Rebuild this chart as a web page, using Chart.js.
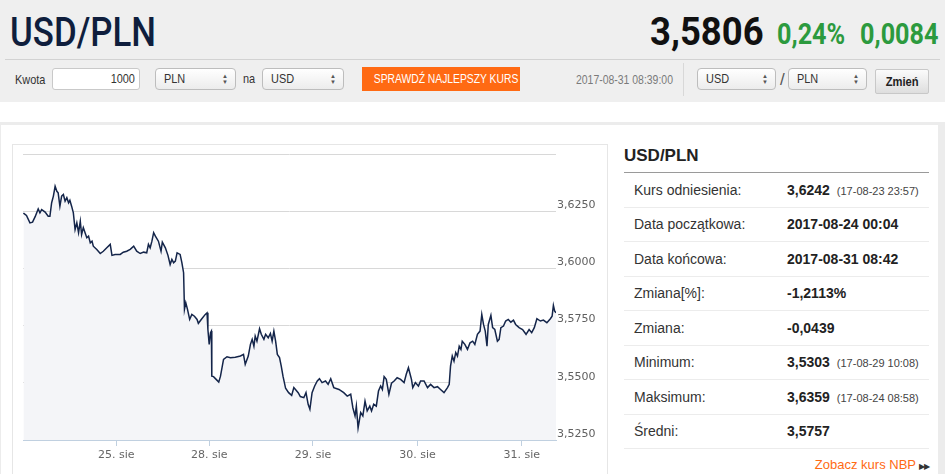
<!DOCTYPE html>
<html lang="pl">
<head>
<meta charset="utf-8">
<title>USD/PLN</title>
<script src="https://cdn.jsdelivr.net/npm/chart.js@4.4.1/dist/chart.umd.min.js"></script>
<style>
  html, body { margin: 0; padding: 0; }
  body { width: 945px; height: 474px; overflow: hidden; position: relative; background: #fff;
         font-family: "Liberation Sans", Arial, sans-serif; color: #333; }
  .abs { position: absolute; white-space: nowrap; }
  .nt { display: inline-block; transform: scaleX(0.84); transform-origin: left center; white-space: nowrap; }
  .nt.r { transform-origin: right center; }
  #top { left: 0; top: 0; width: 945px; height: 102px; background: #efefef; }
  #title { left: 10px; top: 11px; font-family: Roboto, sans-serif; font-size: 41px; line-height: 42px; color: #0f1e3d; font-weight: 500; }
  #title .nt { transform: scaleX(0.85); }
  #price { left: 650px; top: 11px; font-family: Roboto, sans-serif; font-size: 38px; line-height: 42px; font-weight: bold; color: #111; }
  #price .nt { transform: scaleX(0.96); }
  .green { top: 16px; font-family: Roboto, sans-serif; font-size: 30px; line-height: 36px; font-weight: bold; color: #2c9a3e; }
  .green .nt { transform: scaleX(0.84); }
  #sep { left: 5px; top: 59px; width: 935px; height: 1px; background: #d2d2d2; }
  .lbl { font-size: 13px; line-height: 22px; color: #333; }
  .inp { height: 20px; border: 1px solid #c9c9c9; border-radius: 3px; background: #fff; font-size: 13px; line-height: 20px; text-align: right; padding-right: 4px; box-sizing: content-box; }
  .sel { border: 1px solid #bdbdbd; border-radius: 4px; background: linear-gradient(#ffffff, #ececec);
         font-size: 13px; line-height: 20px; padding-left: 8px; box-sizing: border-box; height: 22px; }
  .sel .arr { position: absolute; right: 7px; top: 4px; font-size: 6px; line-height: 6px; color: #555; }
  #go { left: 362px; top: 67px; width: 158px; height: 24px; background: #ff6a13; color: #fff; font-size: 12px; line-height: 24px; text-align: center; }
  #go .nt { transform-origin: center center; transform: scaleX(0.86); }
  #stamp { left: 576px; top: 69px; font-size: 12px; line-height: 22px; color: #7a7a7a; }
  #stamp .nt { transform: scaleX(0.87); }
  #vsep { left: 683px; top: 63px; width: 1px; height: 33px; background: #d8d8d8; }
  #btn { left: 875px; top: 69px; width: 54px; height: 25px; box-sizing: border-box; border: 1px solid #c8c8c8; border-radius: 2px;
         background: linear-gradient(#fbfbfb, #dedede); font-size: 13px; line-height: 23px; text-align: center; font-weight: bold; color: #222; }
  #btn .nt { transform-origin: center center; transform: scaleX(0.86); }
  #frameTop { left: 0; top: 122px; width: 945px; height: 3px; background: #ececec; }
  #frameRight { left: 938px; top: 122px; width: 7px; height: 352px; background: #ececec; }
  #frameLeft { left: 0; top: 122px; width: 1px; height: 352px; background: #ececec; }
  #chartBox { left: 12px; top: 144px; width: 596px; height: 340px; box-sizing: border-box; border: 1px solid #e6e6e6; }
  #chartWrap { left: 13px; top: 145px; width: 595px; height: 329px; }
  #side { left: 624px; top: 140px; width: 305px; }
  #side h2 { margin: 0; font-size: 17px; line-height: 32px; height: 32px; font-weight: bold; color: #222; border-bottom: 1px solid #9a9a9a; }
  #side table { border-collapse: collapse; width: 305px; }
  #side td { height: 33.5px; border-bottom: 1px solid #ececec; font-size: 14px; padding: 0; vertical-align: middle; }
  #side td.k { padding-left: 10px; width: 153px; color: #333; }
  #side td.v { font-weight: bold; color: #222; }
  #side td.v small { font-weight: normal; font-size: 11px; color: #444; margin-left: 7px; }
  #nbp { right: 16px; top: 457px; font-size: 13px; line-height: 16px; color: #ff6a13; }
  #nbp span { color: #333; font-size: 8px; margin-left: 3px; letter-spacing: -1px; }
</style>
</head>
<body>

<div id="top" class="abs"></div>
<div id="title" class="abs"><span class="nt">USD/PLN</span></div>
<div id="price" class="abs"><span class="nt">3,5806</span></div>
<div class="abs green" style="left:777px;"><span class="nt">0,24%</span></div>
<div class="abs green" style="left:860px;"><span class="nt">0,0084</span></div>
<div id="sep" class="abs"></div>

<div class="abs lbl" style="left:15px; top:69px;"><span class="nt">Kwota</span></div>
<div class="abs inp" style="left:52px; top:68px; width:82px;"><span class="nt r">1000</span></div>
<div class="abs sel" style="left:155px; top:68px; width:81px;"><span class="nt">PLN</span><span class="arr">▲<br>▼</span></div>
<div class="abs lbl" style="left:243px; top:68px;"><span class="nt">na</span></div>
<div class="abs sel" style="left:262px; top:68px; width:82px;"><span class="nt">USD</span><span class="arr">▲<br>▼</span></div>
<div id="go" class="abs"><span class="nt">SPRAWDŹ NAJLEPSZY KURS</span></div>
<div id="stamp" class="abs"><span class="nt">2017-08-31 08:39:00</span></div>
<div id="vsep" class="abs"></div>
<div class="abs sel" style="left:697px; top:68px; width:79px;"><span class="nt">USD</span><span class="arr">▲<br>▼</span></div>
<div class="abs lbl" style="left:780px; top:69px; font-size:17px; color:#555;">/</div>
<div class="abs sel" style="left:788px; top:68px; width:79px;"><span class="nt">PLN</span><span class="arr">▲<br>▼</span></div>
<div id="btn" class="abs"><span class="nt">Zmień</span></div>

<div id="frameTop" class="abs"></div>
<div id="frameLeft" class="abs"></div>
<div id="frameRight" class="abs"></div>
<div id="chartBox" class="abs"></div>
<div id="chartWrap" class="abs"><canvas id="rate_chart"></canvas></div>

<div id="side" class="abs">
  <h2>USD/PLN</h2>
  <table>
    <tr><td class="k">Kurs odniesienia:</td><td class="v">3,6242<small>(17-08-23 23:57)</small></td></tr>
    <tr><td class="k">Data początkowa:</td><td class="v">2017-08-24 00:04</td></tr>
    <tr><td class="k">Data końcowa:</td><td class="v">2017-08-31 08:42</td></tr>
    <tr><td class="k">Zmiana[%]:</td><td class="v">-1,2113%</td></tr>
    <tr><td class="k">Zmiana:</td><td class="v">-0,0439</td></tr>
    <tr><td class="k">Minimum:</td><td class="v">3,5303<small>(17-08-29 10:08)</small></td></tr>
    <tr><td class="k">Maksimum:</td><td class="v">3,6359<small>(17-08-24 08:58)</small></td></tr>
    <tr><td class="k">Średni:</td><td class="v">3,5757</td></tr>
  </table>
</div>
<div id="nbp" class="abs">Zobacz kurs NBP<span>▶▶</span></div>

<script>
"use strict";

// trading-time position (hours on the ordinal axis, weekend skipped)
var hours = [
    0.1, 0.8, 1.6, 2.2, 2.8, 3.5, 3.9, 4.3, 5.1, 5.8,
    6.2, 6.6, 7.0, 7.4, 7.8, 8.1, 8.5, 8.9, 9.3, 9.7,
    10.1, 10.5, 10.8, 11.2, 11.6, 12.0, 12.4, 12.8, 13.2, 13.5,
    13.9, 14.3, 14.7, 15.1, 15.5, 15.9, 16.2, 17.0, 17.8, 18.5,
    19.3, 20.1, 20.5, 21.2, 22.4, 23.1, 23.9, 24.7, 25.5, 26.2,
    27.0, 27.8, 28.5, 28.9, 29.3, 29.7, 30.1, 30.5, 31.2, 31.8,
    32.1, 32.8, 33.4, 33.9, 34.3, 34.7, 35.1, 35.5, 36.2, 36.6,
    37.0, 37.2, 37.5, 37.9, 38.4, 38.9, 39.5, 40.1, 40.4, 41.2,
    42.0, 42.4, 42.6, 42.9, 43.2, 43.4, 43.5, 43.9, 44.5, 45.1,
    45.5, 46.2, 47.0, 47.8, 48.9, 50.1, 50.8, 51.2, 51.9, 52.4,
    52.8, 53.2, 53.5, 53.9, 54.5, 54.9, 55.5, 55.9, 56.5, 57.0,
    57.4, 57.8, 58.2, 58.6, 59.1, 59.5, 59.9, 60.5, 61.2, 61.9,
    62.4, 63.4, 63.9, 64.7, 65.2, 65.7, 66.1, 66.6, 67.2, 67.8,
    68.3, 68.9, 69.7, 70.3, 70.9, 71.6, 72.8, 73.9, 74.7, 75.5,
    76.0, 76.5, 76.8, 77.2, 77.8, 78.3, 78.8, 79.3, 79.9, 80.3,
    80.8, 81.4, 81.9, 82.4, 82.8, 83.2, 83.7, 84.3, 84.9, 85.5,
    86.2, 87.0, 87.8, 88.3, 88.8, 89.1, 89.5, 89.8, 90.4, 91.1,
    91.6, 92.4, 93.2, 93.9, 94.7, 95.5, 96.2, 97.0, 97.8, 98.2,
    98.5, 98.9, 99.3, 99.7, 100.1, 100.5, 100.9, 101.2, 101.8, 102.4,
    103.0, 103.6, 104.1, 104.7, 105.3, 105.7, 106.1, 106.5, 106.9, 107.2,
    107.8, 108.2, 108.7, 109.3, 109.7, 110.1, 110.7, 111.2, 111.8, 112.4,
    113.0, 113.5, 114.3, 115.1, 115.9, 116.6, 117.2, 117.8, 118.4, 119.2,
    119.9, 120.7, 121.5, 121.9, 122.2, 122.5, 122.8
];

// USD/PLN rate
var rates = [
    3.6242, 3.6231, 3.6199, 3.6202, 3.6226, 3.6260, 3.6243, 3.6257, 3.6246, 3.6228,
    3.6228, 3.6287, 3.6316, 3.6359, 3.6337, 3.6330, 3.6272, 3.6316, 3.6323, 3.6294,
    3.6309, 3.6287, 3.6298, 3.6272, 3.6243, 3.6170, 3.6199, 3.6156, 3.6206, 3.6148,
    3.6178, 3.6156, 3.6134, 3.6141, 3.6112, 3.6119, 3.6097, 3.6083, 3.6065, 3.6075,
    3.6090, 3.6105, 3.6057, 3.6061, 3.6061, 3.6071, 3.6075, 3.6083, 3.6097, 3.6075,
    3.6065, 3.6071, 3.6068, 3.6105, 3.6090, 3.6119, 3.6156, 3.6141, 3.6119, 3.6075,
    3.6115, 3.6090, 3.6057, 3.6017, 3.6039, 3.6025, 3.6032, 3.6068, 3.6061, 3.6025,
    3.5981, 3.5821, 3.5850, 3.5821, 3.5777, 3.5799, 3.5791, 3.5777, 3.5760, 3.5780,
    3.5799, 3.5806, 3.5733, 3.5668, 3.5719, 3.5726, 3.5529, 3.5527, 3.5515, 3.5503,
    3.5529, 3.5602, 3.5614, 3.5610, 3.5612, 3.5617, 3.5624, 3.5581, 3.5617, 3.5668,
    3.5690, 3.5660, 3.5704, 3.5682, 3.5736, 3.5712, 3.5690, 3.5712, 3.5697, 3.5716,
    3.5682, 3.5726, 3.5682, 3.5624, 3.5610, 3.5573, 3.5529, 3.5476, 3.5457, 3.5445,
    3.5479, 3.5457, 3.5440, 3.5435, 3.5457, 3.5406, 3.5384, 3.5457, 3.5486, 3.5508,
    3.5518, 3.5501, 3.5508, 3.5493, 3.5518, 3.5479, 3.5471, 3.5457, 3.5442, 3.5450,
    3.5391, 3.5355, 3.5398, 3.5303, 3.5370, 3.5355, 3.5420, 3.5377, 3.5398, 3.5377,
    3.5406, 3.5398, 3.5464, 3.5486, 3.5471, 3.5527, 3.5515, 3.5450, 3.5498, 3.5508,
    3.5522, 3.5515, 3.5501, 3.5537, 3.5566, 3.5544, 3.5515, 3.5479, 3.5501, 3.5486,
    3.5508, 3.5508, 3.5479, 3.5493, 3.5479, 3.5483, 3.5471, 3.5457, 3.5479, 3.5493,
    3.5573, 3.5617, 3.5595, 3.5632, 3.5617, 3.5660, 3.5646, 3.5682, 3.5668, 3.5646,
    3.5675, 3.5682, 3.5668, 3.5712, 3.5726, 3.5799, 3.5755, 3.5726, 3.5660, 3.5755,
    3.5795, 3.5741, 3.5733, 3.5682, 3.5690, 3.5741, 3.5748, 3.5770, 3.5777, 3.5765,
    3.5774, 3.5755, 3.5741, 3.5733, 3.5712, 3.5733, 3.5719, 3.5741, 3.5780, 3.5770,
    3.5774, 3.5763, 3.5780, 3.5791, 3.5838, 3.5813, 3.5806
];

// day ticks on the x axis
var dayTicks = [21.5, 42.9, 66.8, 90.9, 114.9];
var dayLabels = ['25. sie', '28. sie', '29. sie', '30. sie', '31. sie'];

// y axis ticks
var rateTicks = [3.525, 3.55, 3.575, 3.6, 3.625, 3.65];

var RateChart = function () {
    var initRateChart = function () {
        var element = document.getElementById('rate_chart');
        if (!element) {
            return;
        }

        var points = hours.map(function (h, i) {
            return { x: h, y: rates[i] };
        });

        var config = {
            type: 'line',
            data: {
                datasets: [{
                    data: points,
                    borderColor: '#14254a',
                    borderWidth: 1.5,
                    backgroundColor: '#f4f5f8',
                    fill: 'start',
                    pointRadius: 0,
                    tension: 0
                }]
            },
            options: {
                responsive: true,
                maintainAspectRatio: false,
                animation: false,
                layout: { padding: { left: 10, top: 9, right: 0, bottom: 0 } },
                scales: {
                    x: {
                        type: 'linear',
                        min: 0,
                        max: 122.8,
                        afterBuildTicks: function (axis) {
                            axis.ticks = dayTicks.map(function (v) { return { value: v }; });
                        },
                        afterFit: function (axis) { axis.height = 34; },
                        grid: {
                            drawOnChartArea: false,
                            drawTicks: true,
                            tickLength: 6,
                            color: '#c0d0e0'
                        },
                        border: { color: '#c0d0e0' },
                        ticks: {
                            autoSkip: false,
                            maxRotation: 0,
                            padding: 3,
                            color: '#666666',
                            font: { family: 'DejaVu Sans', size: 11 },
                            callback: function (value, index) {
                                return dayLabels[index];
                            }
                        }
                    },
                    y: {
                        position: 'right',
                        min: 3.525,
                        max: 3.65,
                        afterBuildTicks: function (axis) {
                            axis.ticks = rateTicks.map(function (v) { return { value: v }; });
                        },
                        afterFit: function (axis) { axis.width = 52; },
                        grid: {
                            color: '#d8d8d8',
                            drawTicks: false
                        },
                        border: { display: false },
                        ticks: {
                            padding: 1,
                            labelOffset: -6,
                            color: '#606060',
                            font: { family: 'DejaVu Sans', size: 11 },
                            callback: function (value) {
                                if (value >= 3.65) {
                                    return '';
                                }
                                return value.toFixed(4).replace('.', ',');
                            }
                        }
                    }
                },
                plugins: {
                    legend: { display: false },
                    tooltip: { enabled: false }
                }
            }
        };

        element.chartInstance = new Chart(element.getContext('2d'), config);
    };

    return {
        init: function () {
            initRateChart();
        }
    };
}();

document.addEventListener('DOMContentLoaded', function () {
    RateChart.init();
});
</script>
</body>
</html>
